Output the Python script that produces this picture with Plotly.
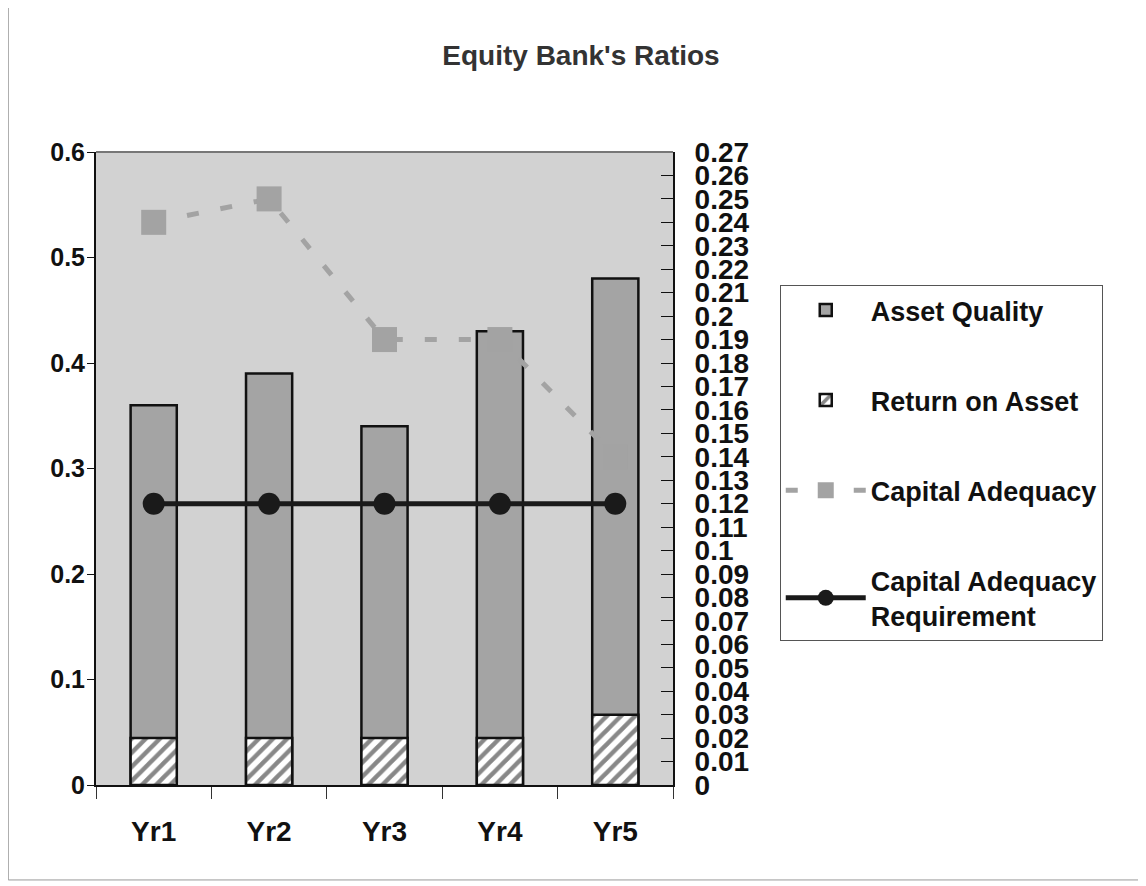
"""Equity Bank's ratios: bars for asset quality / ROA, lines for capital adequacy."""

import plotly.graph_objects as go

# ---- data ----
years = ["Yr1", "Yr2", "Yr3", "Yr4", "Yr5"]
asset_quality = [0.36, 0.39, 0.34, 0.43, 0.48]          # left axis
return_on_asset = [0.02, 0.02, 0.02, 0.02, 0.03]         # right axis
capital_adequacy = [0.24, 0.25, 0.19, 0.19, 0.14]        # right axis
capital_requirement = [0.12, 0.12, 0.12, 0.12, 0.12]     # right axis

left_ticks = [0, 0.1, 0.2, 0.3, 0.4, 0.5, 0.6]
right_ticks = [round(i * 0.01, 2) for i in range(28)]

FONT = "Liberation Sans, Arial, sans-serif"
PLOT_BG = "#d2d2d2"
BAR_GREY = "#a4a4a4"
LINE_GREY = "#a3a3a3"

fig = go.Figure()

fig.add_trace(go.Bar(
    x=years, y=asset_quality, name="Asset Quality",
    width=0.4, marker=dict(color=BAR_GREY, line=dict(color="#111111", width=2.5)),
    legendgroup="aq",
))
fig.add_trace(go.Bar(
    x=years, y=return_on_asset, name="Return on Asset", yaxis="y2",
    width=0.4,
    marker=dict(color="white", line=dict(color="#111111", width=2.5),
                pattern=dict(shape="/", fgcolor="#111111", bgcolor="white",
                             size=10, solidity=0.45)),
    legendgroup="roa",
))
fig.add_trace(go.Scatter(
    x=years, y=capital_adequacy, name="Capital Adequacy", yaxis="y2",
    mode="lines+markers",
    line=dict(color=LINE_GREY, width=5, dash="12px,22px"),
    marker=dict(symbol="square", size=25, color=LINE_GREY),
    legendgroup="ca",
))
fig.add_trace(go.Scatter(
    x=years, y=capital_requirement, name="Capital Adequacy<br>Requirement", yaxis="y2",
    mode="lines+markers",
    line=dict(color="#1a1a1a", width=5),
    marker=dict(symbol="circle", size=22, color="#1a1a1a"),
    legendgroup="car",
))

# outer frame and top edge of the plot area
fig.add_shape(type="rect", xref="paper", yref="paper",
              x0=-0.152, x1=1.815, y0=-0.150, y1=1.229,
              line=dict(color="#999999", width=1), layer="below")
fig.add_shape(type="line", xref="paper", yref="paper",
              x0=0, x1=1, y0=1, y1=1, line=dict(color="#777777", width=2))

fig.update_layout(
    width=1146, height=886,
    margin=dict(l=88, r=481, t=144, b=109),
    paper_bgcolor="white",
    plot_bgcolor=PLOT_BG,
    barmode="overlay",
    font=dict(family=FONT, size=24, color="#111111", weight="bold"),
    title=dict(text="Equity Bank's Ratios", x=0.5, xanchor="center",
               y=1 - 47 / 886, yanchor="middle",
               font=dict(family=FONT, size=28, color="#333333", weight="bold")),
    xaxis=dict(
        showgrid=False, showline=True, linecolor="#111111", linewidth=2,
        ticks="outside", ticklen=12, tickcolor="#333333", tickson="boundaries",
        tickfont=dict(size=28), ticklabelstandoff=20,
    ),
    yaxis=dict(
        range=[0, 0.6], tickvals=left_ticks, ticktext=[f"{v:g}" for v in left_ticks],
        showgrid=False, zeroline=False, showline=True, linecolor="#111111", linewidth=2,
        ticks="outside", ticklen=7, tickcolor="#111111",
        tickfont=dict(size=25), ticklabelstandoff=-3,
    ),
    yaxis2=dict(
        range=[0, 0.27], tickvals=right_ticks, ticktext=[f"{v:g}" for v in right_ticks],
        overlaying="y", side="right",
        showgrid=False, zeroline=False, showline=True, linecolor="#111111", linewidth=2,
        ticks="inside", ticklen=12, tickcolor="#111111",
        tickfont=dict(size=28), ticklabelstandoff=14,
    ),
    legend=dict(
        x=1.185, y=0.79, xanchor="left", yanchor="top",
        bgcolor="white", bordercolor="#555555", borderwidth=1,
        font=dict(family=FONT, size=27, color="#111111", weight="bold"),
        tracegroupgap=52, traceorder="grouped", itemwidth=80,
    ),
)

fig.write_html("out.html")
